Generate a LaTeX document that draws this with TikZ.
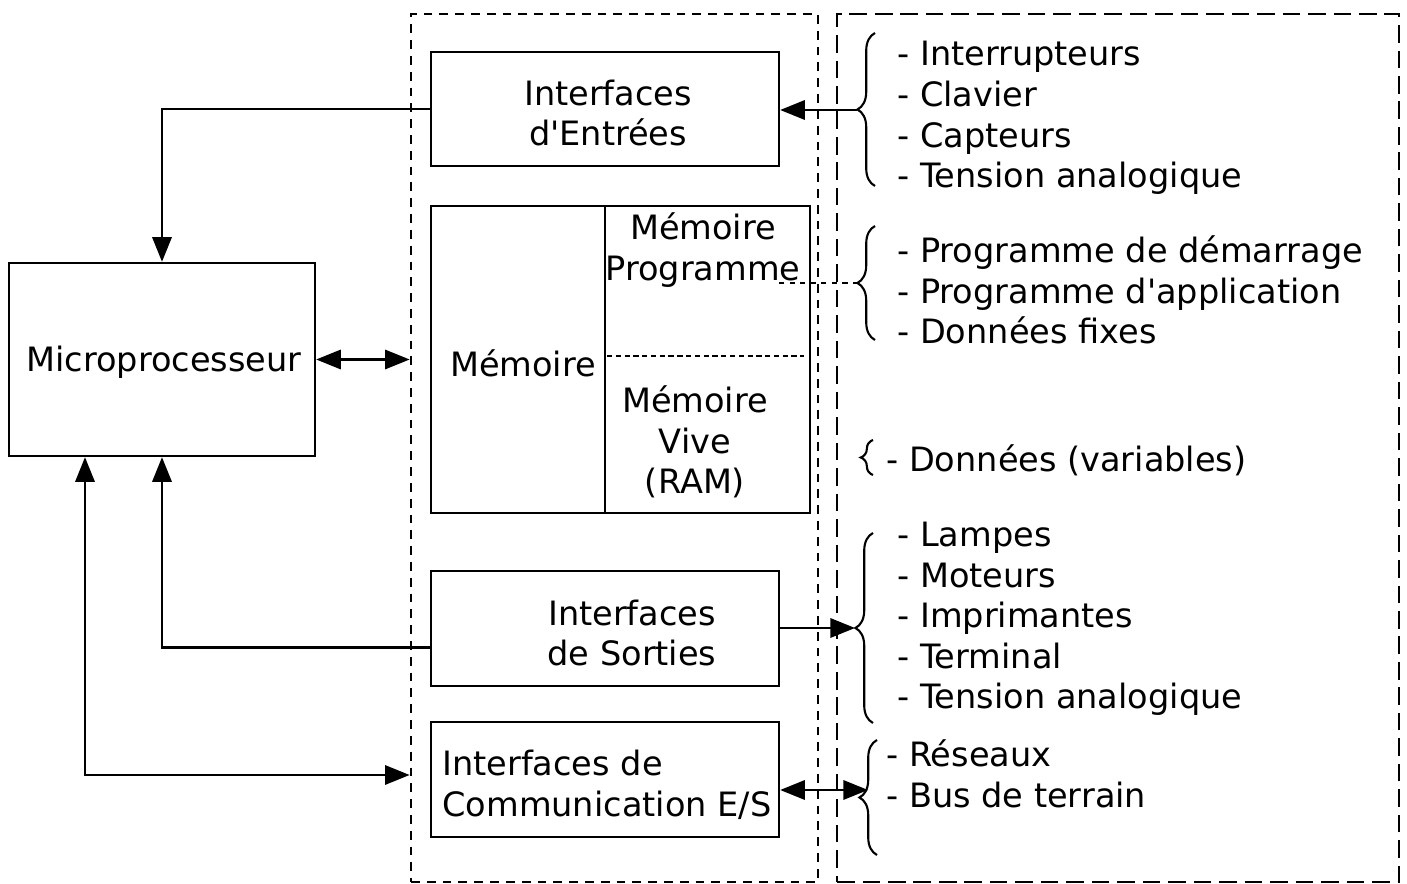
\documentclass[tikz,border=0pt]{standalone}
\usepackage{fontspec}
\setmainfont{DejaVu Sans}[Ligatures=TeXOff]
\usetikzlibrary{calc,positioning,arrows.meta,decorations.pathreplacing}
\tikzset{
>={Triangle[length=14pt,width=11pt]},
  bloc/.style={
    draw, line width=1.4pt,
    inner sep=0pt,
    align=center},
  cadre/.style={draw, line width=1.6pt, dash pattern=on 5pt off 4pt, inner sep=0pt},
  cadrelong/.style={draw, line width=1.6pt, dash pattern=on 10pt off 4.5pt, inner sep=0pt},
  fleche/.style={draw, line width=1.2pt},
  liste/.style={anchor=west, align=left, inner sep=0pt},
  accolade/.style={decorate, decoration={brace, amplitude=10pt}, line width=1.2pt},
}

\begin{document}
\begin{tikzpicture}[x=0.02cm, y=-0.02cm, font=\fontsize{19.1}{23.1}\selectfont]
    \useasboundingbox (0,0) rectangle (1407,884);

    % les deux zones en pointilles
    \node[cadre, minimum width=8.14cm, minimum height=17.36cm] (zoneI) at (614.5,448) {};
    \node[cadrelong, minimum width=11.24cm, minimum height=17.36cm] (zoneII) at (1118,448) {};

    \node[bloc, minimum width=6.12cm, minimum height=3.86cm] (micro) at (162,359.5) {};
    \node (tmicro) at (164,362) {Microprocesseur};
    \node[bloc, minimum width=6.96cm, minimum height=2.28cm] (ient) at (605,109) {};
    \node[align=center, inner sep=0pt] (tient) at (608,113) {Interfaces\\d'Entrées};

    % la memoire, coupee en deux
    \node[bloc, minimum width=7.58cm, minimum height=6.14cm] (mem) at (620.5,359.5) {};
    \draw[line width=1.4pt] (605,206) -- (605,513);
    \draw[densely dashed, line width=0.8pt] (607,356) -- (804,356);
    \node (tmem) at (523,363) {Mémoire};
    \node[align=center, inner sep=0pt] (mprog) at (703,250) {Mémoire\\Programme};
    \node[align=center, inner sep=0pt] (mvive) at (695,442) {Mémoire\\Vive\\(RAM)};

    \node[bloc, minimum width=6.96cm, minimum height=2.30cm] (isort) at (605,628.5) {};
    \node[align=center, inner sep=0pt] (tsort) at (632,633) {Interfaces\\de Sorties};
    \node[bloc, minimum width=6.96cm, minimum height=2.30cm] (icomm) at (605,779.5) {};
    \node[liste] (tcomm) at (442,785) {Interfaces de\\Communication E/S};

    % accolades et listes
    \draw[accolade] (875,186) -- (875,33);
    \coordinate (acc1) at (857,110);
    \node[liste] (lent) at (897,118) {- Interrupteurs\\- Clavier\\- Capteurs\\- Tension analogique};

    \draw[accolade] (875,340) -- (875,226);
    \coordinate (acc2) at (857,283);
    \node[liste] (lprog) at (897,290) {- Programme de démarrage\\- Programme d'application\\- Données fixes};

    \draw[accolade, decoration={amplitude=7pt}] (873,475) -- (873,440);
    \node[liste] (lvive) at (886,460) {- Données (variables)};

    \draw[accolade] (873,723) -- (873,533);
    \coordinate (acc4) at (855,628);
    \node[liste] (lsort) at (897,619) {- Lampes\\- Moteurs\\- Imprimantes\\- Terminal\\- Tension analogique};

    \draw[accolade] (877,855) -- (877,740);
    \coordinate (acc5) at (868,790);
    \node[liste] (lcomm) at (886,774) {- Réseaux\\- Bus de terrain};

    % les liaisons
    \draw[fleche, ->] (ient.west) -| (micro.north);
    \draw[fleche, ->] (acc1) -- (ient.east |- acc1);
    \draw[fleche, <->] (micro.east) -- (micro.east -| zoneI.west);
    \draw[fleche, ->] ([yshift=-0.38cm]isort.west) -| (micro.south);
    \coordinate (coin) at (85,775);
    \draw[fleche, <->] (coin -| zoneI.west) -- (coin) -- (coin |- micro.south);
    \draw[fleche, ->] (isort.east |- acc4) -- (acc4);
    \draw[fleche, <->] (icomm.east |- acc5) -- (acc5);
    \coordinate (dprog) at (779,283);
    \draw[fleche, dashed] (dprog) -- (acc2);
\end{tikzpicture}
\end{document}
